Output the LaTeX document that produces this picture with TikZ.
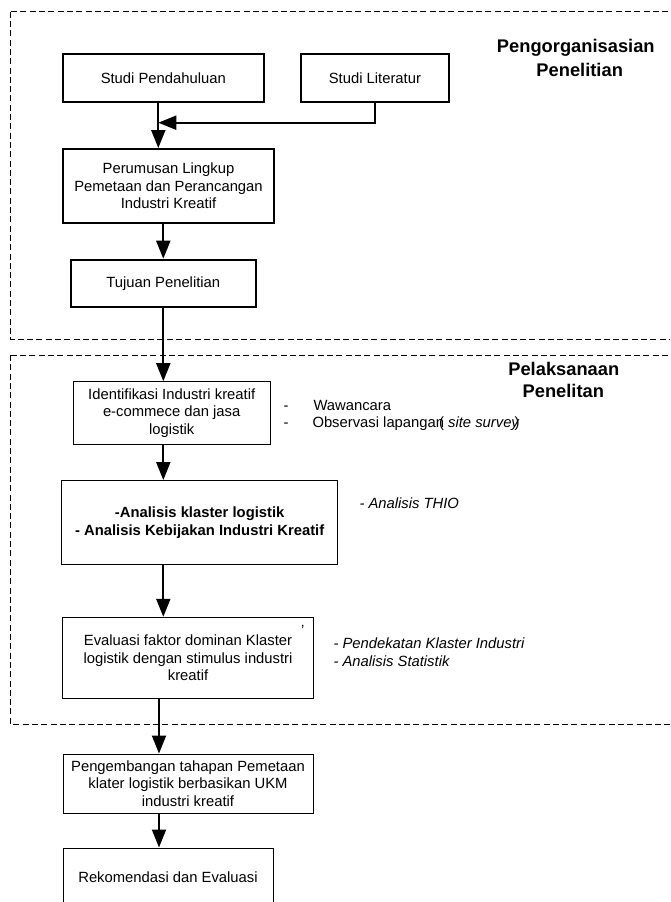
\documentclass[tikz,border=0pt]{standalone}
\usepackage{fontspec}
\setmainfont{Liberation Sans}
\usetikzlibrary{arrows.meta,calc}
\begin{document}
\begin{tikzpicture}[x=1pt,y=-1pt,
  txt/.style={font=\fontsize{14.8}{17.6}\selectfont},
  thickbox/.style={txt, draw, line width=2pt, align=center, inner sep=0pt},
  thinbox/.style={txt, draw, line width=1pt, align=center, inner sep=0pt},
  midbox/.style={draw, line width=1.3pt, align=center, inner sep=0pt, font=\fontsize{14.8}{17.7}\selectfont\bfseries},
  title/.style={font=\fontsize{18.3}{22}\selectfont\bfseries, inner sep=0pt, anchor=base},
  side/.style={txt, inner sep=0pt, anchor=base west},
  arr/.style={line width=2pt, -{Triangle[length=18pt,width=14pt]}},
  dashpat/.style={line width=1pt, dash pattern=on 6pt off 3.3pt}]
\useasboundingbox (0,0) rectangle (670,902);
\clip (0,0) rectangle (670,902);

% dashed frames
\draw[dashpat] (10.7,11.7) rectangle (700,339.3);
\draw[dashpat] (10.7,355) rectangle (700,724.3);

% titles
\node[title] (t1a) at (575.8,52.3) {Pengorganisasian};
\node[title] (t1b) at (579.7,76.7) {Penelitian};
\node[title] (t2a) at (563.8,375.7) {Pelaksanaan};
\node[title] (t2b) at (563.3,397.7) {Penelitan};

% boxes
\node[thickbox, minimum width=201.3pt, minimum height=47.4pt] (sp) at (163.3,78) {Studi Pendahuluan};
\node[thickbox, minimum width=148.3pt, minimum height=47.4pt] (sl) at (374.9,78) {Studi Literatur};
\node[thickbox, minimum width=211.6pt, minimum height=73.7pt] (pr) at (168.5,185.9) {Perumusan Lingkup\\Pemetaan dan Perancangan\\Industri Kreatif};
\node[thickbox, minimum width=185.3pt, minimum height=47pt] (tj) at (163.3,283.2) {Tujuan Penelitian};
\node[thinbox, minimum width=196.7pt, minimum height=62.6pt] (id) at (171.7,413) {Identifikasi Industri kreatif\\e-commece dan jasa\\logistik};
\node[midbox, minimum width=276pt, minimum height=83.6pt] (an) at (199.7,522.5) {-Analisis klaster logistik\\- Analisis Kebijakan Industri Kreatif};
\node[thinbox, minimum width=250.6pt, minimum height=81pt] (ev) at (188,657.8) {Evaluasi faktor dominan Klaster\\logistik dengan stimulus industri\\kreatif};
\node[txt, inner sep=0pt] (mk) at (302.7,630) {'};
\node[thinbox, minimum width=250pt, minimum height=59pt] (pg) at (188,783.5) {Pengembangan tahapan Pemetaan\\klater logistik berbasikan UKM\\industri kreatif};
\node[thinbox, minimum width=210pt, minimum height=58pt] (rk) at (168,877) {Rekomendasi dan Evaluasi};

% side notes
\node[side] (d1) at (283.3,410) {-};
\node[side] (w1) at (313.3,410) {Wawancara};
\node[side] (d2) at (283.3,427.3) {-};
\node[side] (w2) at (312.3,427.3) {Observasi lapangan\kern-5pt(\textit{ site survey}\kern-5pt)};
\node[side] (th) at (359.3,508.3) {\itshape - Analisis THIO};
\node[side] (pk) at (333.3,648.3) {\itshape - Pendekatan Klaster Industri};
\node[side] (st) at (333.3,666) {\itshape - Analisis Statistik};

% connectors
\coordinate (mj) at (158.3,122.7);
\coordinate (cx) at (163.3,0);
\coordinate (bx) at (159,0);
\draw[arr] (sp.south -| mj) -- (pr.north -| mj);
\draw[arr] (sl.south) |- (mj);
\draw[arr] (pr.south -| cx) -- (tj.north -| cx);
\draw[arr] (tj.south -| cx) -- (id.north -| cx);
\draw[arr] (id.south -| cx) -- (an.north -| cx);
\draw[arr] (an.south -| cx) -- (ev.north -| cx);
\draw[arr] (ev.south -| bx) -- (pg.north -| bx);
\draw[arr] (pg.south -| bx) -- (rk.north -| bx);
\end{tikzpicture}
\end{document}
